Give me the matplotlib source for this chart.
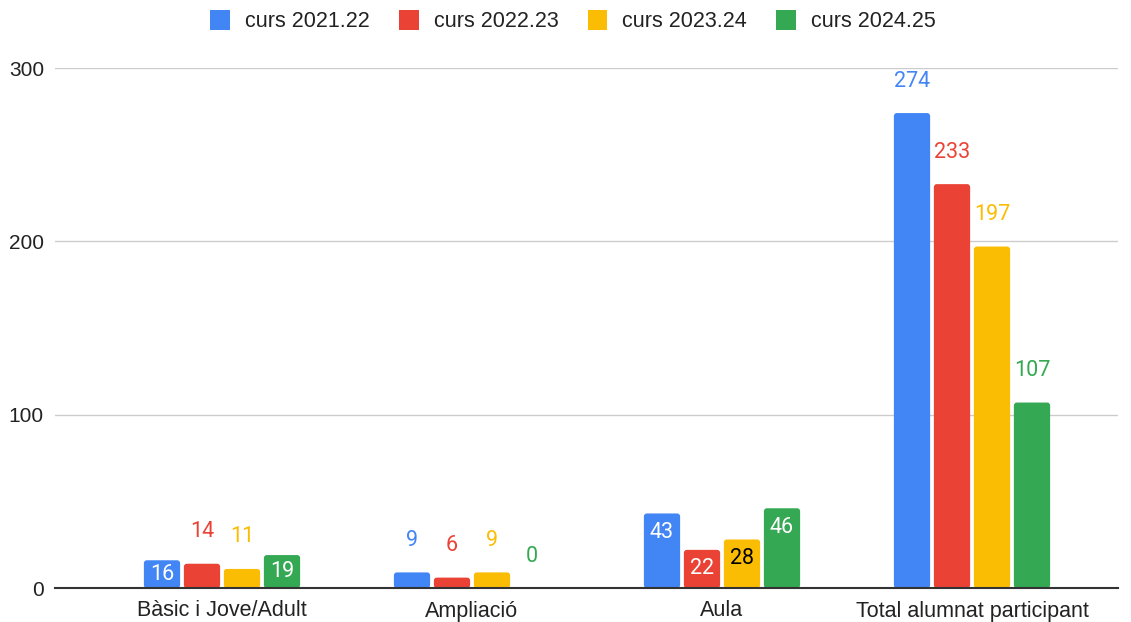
import matplotlib
matplotlib.use("Agg")
import matplotlib.pyplot as plt
from matplotlib.patches import FancyBboxPatch, Patch
import numpy as np

categories = ["Bàsic i Jove/Adult", "Ampliació", "Aula", "Total alumnat participant"]
series_names = ["curs 2021.22", "curs 2022.23", "curs 2023.24", "curs 2024.25"]
s2021 = [16, 9, 43, 274]
s2022 = [14, 6, 22, 233]
s2023 = [11, 9, 28, 197]
s2024 = [19, 0, 46, 107]
yticks = [0, 100, 200, 300]

series = [s2021, s2022, s2023, s2024]
colors = ["#4285F4", "#EA4335", "#FBBC04", "#34A853"]
inside_text_colors = ["white", "white", "black", "white"]

W, H = 1131, 622
fig = plt.figure(figsize=(W / 100, H / 100), dpi=100)
ax = fig.add_axes([55 / W, 34 / H, (1118 - 55) / W, (588 - 68) / H])

x = np.arange(len(categories))
step = 0.16
width = 0.145
px_per_unit = (588 - 68) / 300.0
px_per_x = 250.0

for i, (vals, col) in enumerate(zip(series, colors)):
    pos = x + (i - 1.5) * step
    bars = ax.bar(pos, vals, width=width, color=col, zorder=3)
    for b in bars:
        b.set_visible(False)
        if b.get_height() <= 0:
            continue
        r = 3.0 / px_per_x
        fb = FancyBboxPatch((b.get_x(), b.get_y()), b.get_width(), b.get_height(),
                            boxstyle=f"round,pad=0,rounding_size={r}",
                            mutation_aspect=px_per_x / px_per_unit,
                            facecolor=col, edgecolor="none", zorder=3)
        ax.add_patch(fb)
    for j, v in enumerate(vals):
        hpx = v * px_per_unit
        inside = (hpx >= 26) and (v < 100)
        if inside:
            off_px = -min(19, hpx / 2)
            ax.annotate(str(v), (pos[j], v), xytext=(0, off_px * 0.72), textcoords="offset points",
                        ha="center", va="center", fontsize=15.5, family="Roboto",
                        color=inside_text_colors[i], zorder=4)
        else:
            ax.annotate(str(v), (pos[j], v), xytext=(0, 32 * 0.72), textcoords="offset points",
                        ha="center", va="center", fontsize=15.5, family="Roboto",
                        color=col, zorder=4)

ax.set_xlim((55 - 222) / 250, (1118 - 222) / 250)
ax.set_ylim(0, 300)
ax.set_yticks(yticks)
ax.set_yticklabels([str(t) for t in yticks], family="Liberation Sans", fontsize=15, color="#222222")
ax.set_xticks(x)
ax.set_xticklabels(categories, family="Liberation Sans", fontsize=15.5, color="#222222")
ax.tick_params(axis="y", length=0, pad=8)
ax.tick_params(axis="x", length=0, pad=9)

for s in ["top", "right", "left"]:
    ax.spines[s].set_visible(False)
ax.spines["bottom"].set_color("#333333")
ax.spines["bottom"].set_linewidth(1.5)
ax.spines["bottom"].set_zorder(5)
ax.yaxis.grid(True, color="#cccccc", linewidth=1, zorder=0)
ax.set_axisbelow(True)

handles = [Patch(facecolor=c, edgecolor="none") for c in colors]
leg = fig.legend(handles, series_names, loc="center", bbox_to_anchor=(573 / W, 1 - 21 / H), ncol=4,
                 frameon=False, prop={"family": "Liberation Sans", "size": 15.5},
                 handlelength=0.92, handleheight=1.1, handletextpad=0.7, columnspacing=1.35)
for t in leg.get_texts():
    t.set_color("#222222")

fig.savefig("out.png", dpi=100)
